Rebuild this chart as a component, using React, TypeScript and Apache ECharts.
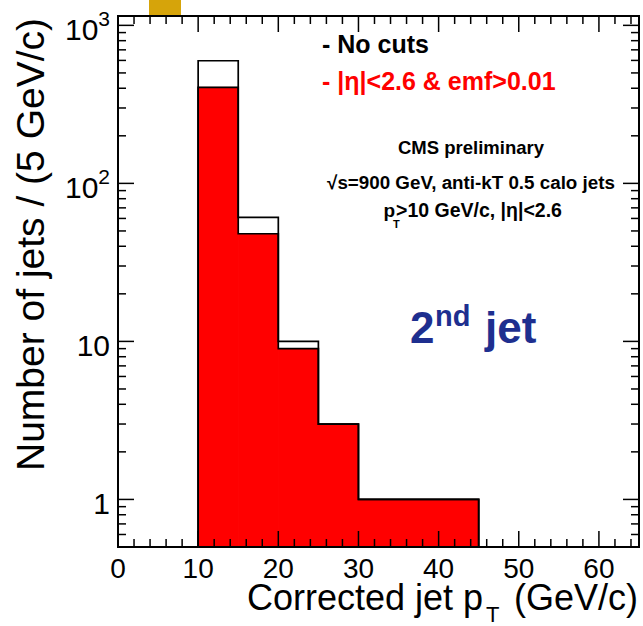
import React, { useEffect, useRef } from 'react';
import * as echarts from 'echarts';

// ---- data ----
const binEdges = [10, 15, 20, 25, 30, 35, 40, 45];
const noCutsCounts = [597, 61, 10, 3, 1, 1, 1];
const etaEmfCounts = [405, 48, 9, 3, 1, 1, 1];

const xTickLabels = ['0', '10', '20', '30', '40', '50', '60'];
const xMajorTicks = [0, 10, 20, 30, 40, 50, 60];
const xMinorTicks = [2, 4, 6, 8, 12, 14, 16, 18, 22, 24, 26, 28, 32, 34, 36, 38, 42, 44, 46, 48, 52, 54, 56, 58, 62, 64];
const yDecades = [1, 10, 100, 1000];
const yMinorTicks = [0.6, 0.7, 0.8, 0.9, 2, 3, 4, 5, 6, 7, 8, 9, 20, 30, 40, 50, 60, 70, 80, 90, 200, 300, 400, 500, 600, 700, 800, 900];

const X_MIN = 0;
const X_MAX = 65;
const Y_MIN = 0.5;
const Y_MAX = 1146;

const FONT = '"Liberation Sans", Arial, Helvetica, sans-serif';

function outlinePoints(api: any, counts: number[]) {
  const pts: number[][] = [];
  pts.push(api.coord([binEdges[0], Y_MIN]));
  for (let i = 0; i < counts.length; i++) {
    pts.push(api.coord([binEdges[i], counts[i]]));
    pts.push(api.coord([binEdges[i + 1], counts[i]]));
  }
  pts.push(api.coord([binEdges[binEdges.length - 1], Y_MIN]));
  return pts;
}

export default function App() {
  const ref = useRef<HTMLDivElement>(null);
  useEffect(() => {
    if (!ref.current) return;
    const chart = echarts.init(ref.current, undefined, { renderer: 'svg' });

    const fillData = etaEmfCounts.map((c, i) => [binEdges[i], binEdges[i + 1], c]);

    const option: any = {
      animation: false,
      backgroundColor: '#fff',
      grid: { left: 118, top: 16, width: 521, height: 531, containLabel: false },
      xAxis: {
        type: 'value',
        min: X_MIN,
        max: X_MAX,
        interval: 10,
        axisLine: { show: false },
        axisTick: { show: false },
        splitLine: { show: false },
        axisLabel: {
          color: '#000',
          fontSize: 28,
          lineHeight: 20,
          fontFamily: FONT,
          margin: 11,
          formatter: (v: number) => {
            const idx = xMajorTicks.indexOf(v);
            return idx >= 0 ? xTickLabels[idx] : '';
          },
        },
      },
      yAxis: {
        type: 'log',
        logBase: 10,
        min: Y_MIN,
        max: Y_MAX,
        axisLine: { show: false },
        axisTick: { show: false },
        splitLine: { show: false },
        axisLabel: {
          color: '#000',
          margin: 8,
          padding: [8, 0, 0, 0],
          formatter: (v: number) => {
            const e = Math.round(Math.log10(v));
            if (Math.abs(Math.log10(v) - e) > 1e-6 || yDecades.indexOf(Math.pow(10, e)) < 0) return '';
            if (e <= 1) return `{b|${Math.pow(10, e)}}`;
            return `{b|10}{s|${e}}`;
          },
          rich: {
            b: { fontSize: 30, lineHeight: 42, fontFamily: FONT, color: '#000' },
            s: { fontSize: 21, lineHeight: 21, verticalAlign: 'top', fontFamily: FONT, color: '#000' },
          },
        },
      },
      series: [
        {
          type: 'custom',
          name: 'fill',
          data: fillData,
          encode: { x: [0, 1], y: 2 },
          renderItem: (params: any, api: any) => {
            const p0 = api.coord([api.value(0), api.value(2)]);
            const p1 = api.coord([api.value(1), Y_MIN]);
            return {
              type: 'rect',
              shape: { x: p0[0], y: p0[1], width: p1[0] - p0[0], height: p1[1] - p0[1] },
              style: { fill: '#ff0000', stroke: '#ff0000', lineWidth: 1 },
            };
          },
        },
        {
          type: 'custom',
          name: '- No cuts',
          data: [[X_MIN, Y_MIN]],
          renderItem: (params: any, api: any) => ({
            type: 'polyline',
            shape: { points: outlinePoints(api, noCutsCounts) },
            style: { fill: 'none', stroke: '#000', lineWidth: 1.7 },
          }),
        },
        {
          type: 'custom',
          name: '- |η|<2.6 & emf>0.01',
          data: [[X_MIN, Y_MIN]],
          renderItem: (params: any, api: any) => ({
            type: 'polyline',
            shape: { points: outlinePoints(api, etaEmfCounts) },
            style: { fill: 'none', stroke: '#000', lineWidth: 1.7 },
          }),
        },
        {
          type: 'custom',
          name: 'axes',
          data: [[X_MIN, Y_MIN]],
          renderItem: (params: any, api: any) => {
            const children: any[] = [];
            const [xl, yb] = api.coord([X_MIN, Y_MIN]);
            const [xr, yt] = api.coord([X_MAX, Y_MAX]);
            const ln = (x1: number, y1: number, x2: number, y2: number) => ({
              type: 'line',
              shape: { x1, y1, x2, y2 },
              style: { stroke: '#000', lineWidth: 1.5 },
            });
            xMajorTicks.forEach((v) => {
              const x = api.coord([v, Y_MIN])[0];
              children.push(ln(x, yb, x, yb - 16));
              children.push(ln(x, yt, x, yt + 16));
            });
            xMinorTicks.forEach((v) => {
              const x = api.coord([v, Y_MIN])[0];
              children.push(ln(x, yb, x, yb - 8));
              children.push(ln(x, yt, x, yt + 8));
            });
            yDecades.forEach((v) => {
              const y = api.coord([X_MIN, v])[1];
              children.push(ln(xl, y, xl + 16, y));
              children.push(ln(xr, y, xr - 16, y));
            });
            yMinorTicks.forEach((v) => {
              const y = api.coord([X_MIN, v])[1];
              children.push(ln(xl, y, xl + 8, y));
              children.push(ln(xr, y, xr - 8, y));
            });
            children.push({
              type: 'rect',
              shape: { x: xl, y: yt, width: xr - xl, height: yb - yt },
              style: { fill: 'none', stroke: '#000', lineWidth: 2 },
            });
            return { type: 'group', children };
          },
        },
      ],
      graphic: [
        { type: 'rect', shape: { x: 149, y: 0, width: 32, height: 16 }, style: { fill: '#d6a40a' } },
        {
          type: 'text', x: 30, y: 18, rotation: Math.PI / 2,
          style: { text: 'Number of jets / (5 GeV/c)', align: 'right', verticalAlign: 'middle', font: `39px ${FONT}`, fill: '#000' },
        },
        {
          type: 'text', x: 483, y: 597,
          style: { text: 'Corrected jet p', align: 'right', verticalAlign: 'middle', font: `36px ${FONT}`, fill: '#000' },
        },
        {
          type: 'text', x: 486, y: 614,
          style: { text: 'T', align: 'left', verticalAlign: 'middle', font: `22px ${FONT}`, fill: '#000' },
        },
        {
          type: 'text', x: 514, y: 597,
          style: { text: '(GeV/c)', align: 'left', verticalAlign: 'middle', font: `36px ${FONT}`, fill: '#000' },
        },
        {
          type: 'text', x: 322, y: 44,
          style: { text: '- No cuts', align: 'left', verticalAlign: 'middle', font: `bold 25px ${FONT}`, fill: '#000' },
        },
        {
          type: 'text', x: 322, y: 81,
          style: { text: '- |η|<2.6 & emf>0.01', align: 'left', verticalAlign: 'middle', font: `bold 25px ${FONT}`, fill: '#ff0000' },
        },
        {
          type: 'text', x: 471, y: 147,
          style: { text: 'CMS preliminary', align: 'center', verticalAlign: 'middle', font: `bold 18.5px ${FONT}`, fill: '#000' },
        },
        {
          type: 'text', x: 471, y: 182,
          style: { text: '√s=900 GeV, anti-kT 0.5 calo jets', align: 'center', verticalAlign: 'middle', font: `bold 18.8px ${FONT}`, fill: '#000' },
        },
        {
          type: 'text', x: 395, y: 210,
          style: { text: 'p', align: 'right', verticalAlign: 'middle', font: `bold 19px ${FONT}`, fill: '#000' },
        },
        {
          type: 'text', x: 393, y: 224,
          style: { text: 'T', align: 'left', verticalAlign: 'middle', font: `bold 11px ${FONT}`, fill: '#000' },
        },
        {
          type: 'text', x: 396, y: 210,
          style: { text: '>10 GeV/c, |η|<2.6', align: 'left', verticalAlign: 'middle', font: `bold 19.5px ${FONT}`, fill: '#000' },
        },
        {
          type: 'text', x: 410, y: 327,
          style: { text: '2', align: 'left', verticalAlign: 'middle', font: `bold 44px ${FONT}`, fill: '#1e2f8f' },
        },
        {
          type: 'text', x: 435, y: 316,
          style: { text: 'nd', align: 'left', verticalAlign: 'middle', font: `bold 29px ${FONT}`, fill: '#1e2f8f' },
        },
        {
          type: 'text', x: 485, y: 327,
          style: { text: 'jet', align: 'left', verticalAlign: 'middle', font: `bold 44px ${FONT}`, fill: '#1e2f8f' },
        },
      ],
    };

    chart.setOption(option);
    return () => chart.dispose();
  }, []);

  return (
    <div
      ref={ref}
      style={{ position: 'absolute', left: 0, top: 0, width: 643, height: 626, background: '#fff' }}
    />
  );
}
